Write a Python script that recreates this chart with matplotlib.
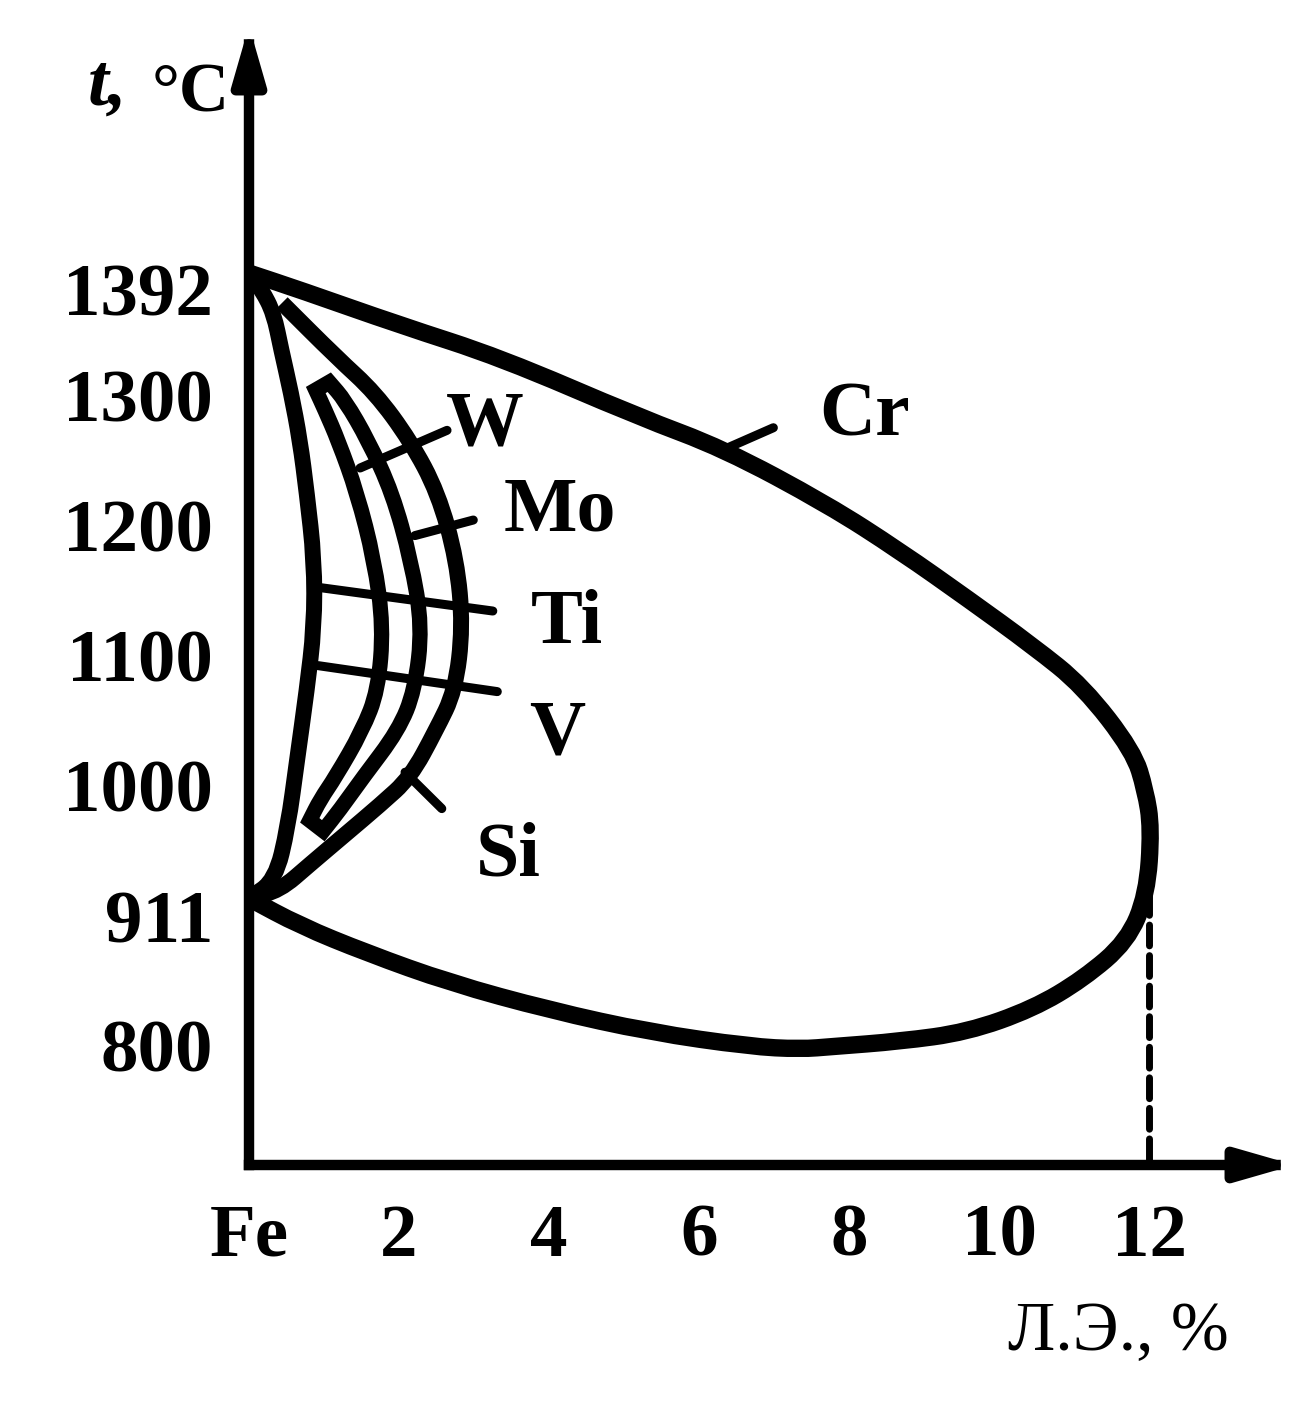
import matplotlib
matplotlib.use("Agg")
import matplotlib.pyplot as plt
from matplotlib.ticker import FixedLocator
from matplotlib.patches import PathPatch
from matplotlib.path import Path
import matplotlib.transforms as mtransforms
import numpy as np

plt.rcParams['font.family'] = ['Liberation Serif', 'DejaVu Serif']

# ---------------- data ----------------
# Cr gamma-loop boundary (alloying element %, temperature degC)
cr_x = [0, 0.68, 2.01, 3.35, 5.21, 6.32, 7.71, 8.68, 9.59, 10.45, 11.12, 11.79, 11.95, 12.03,
        11.97, 11.71, 11.12, 10.45, 9.57, 8.68, 7.79, 7.35, 6.68, 5.35, 4.01, 2.68, 1.57, 0.68, 0]
cr_t = [1392, 1379, 1352, 1327, 1281, 1257, 1214, 1178, 1141, 1105, 1074, 1024, 994, 965,
        914, 878, 849, 826, 808, 801, 797, 795, 797, 808, 825, 846, 869, 890, 911]

# innermost loop (from 1392 to 911)
a_x = [0, 0.17, 0.33, 0.43, 0.56, 0.68, 0.77, 0.87, 0.87, 0.77, 0.64, 0.52, 0.35, 0]
a_t = [1392, 1379, 1361, 1333, 1300, 1263, 1223, 1171, 1120, 1071, 1017, 966, 925, 911]

# outer small loop (open upper end, joins 911)
o_x = [0.44, 1.17, 1.68, 2.15, 2.52, 2.77, 2.85, 2.75, 2.49, 2.15, 1.75, 1.28, 0.81, 0.41, 0]
o_t = [1369, 1327, 1300, 1263, 1223, 1171, 1120, 1071, 1040, 1004, 983, 960, 937, 917, 911]

# hollow (double-line) curve: left strand top->bottom, right strand bottom->top
hl_x = [0.89, 1.01, 1.19, 1.44, 1.67, 1.79, 1.72, 1.51, 1.15, 0.95, 0.81]
hl_t = [1302, 1287, 1263, 1223, 1171, 1120, 1071, 1040, 1004, 987, 971]
hr_x = [0.99, 1.21, 1.52, 1.99, 2.21, 2.31, 2.16, 1.91, 1.59, 1.28, 1.07]
hr_t = [963, 979, 1004, 1040, 1071, 1120, 1171, 1223, 1263, 1294, 1308]

# leader lines: (x0, t0, x1, t1)
leaders = {
    'W':  (1.48, 1242, 2.64, 1271),
    'Mo': (2.21, 1190, 2.99, 1202),
    'Ti': (0.95, 1150, 3.25, 1132),
    'V':  (0.92, 1090, 3.31, 1070),
    'Si': (2.08, 1008, 2.57, 980),
    'Cr': (6.32, 1256, 6.99, 1273),
}
label_pos = {
    'W': (3.15, 1274), 'Mo': (4.15, 1208), 'Ti': (4.24, 1122),
    'V': (4.11, 1037), 'Si': (3.45, 943), 'Cr': (8.21, 1281),
}

x_tick_vals = [0, 2, 4, 6, 8, 10, 12]
x_tick_text = ['Fe', '2', '4', '6', '8', '10', '12']
x_tick_marks = [2, 4, 6, 8, 10]
y_tick_vals = [800, 911, 1000, 1100, 1200, 1300, 1392]
y_tick_text = ['800', '911', '1000', '1100', '1200', '1300', '1392']
y_tick_marks = [800, 1000, 1100, 1200, 1300]
cr_limit = 12          # dashed drop line
cr_limit_t = 914


def smooth_segment(xs, ys):
    """vertices/codes (without MOVETO) of a smooth quadratic-Bezier path through midpoints"""
    p = np.column_stack([xs, ys]).astype(float)
    verts = [(p[0] + p[1]) / 2]
    codes = [Path.LINETO]
    for i in range(1, len(p) - 1):
        verts += [p[i], (p[i] + p[i + 1]) / 2]
        codes += [Path.CURVE3, Path.CURVE3]
    verts.append(p[-1])
    codes.append(Path.LINETO)
    return verts, codes


def smooth_path(xs, ys):
    v, c = smooth_segment(xs, ys)
    return Path([(xs[0], ys[0])] + v, [Path.MOVETO] + c)


# ---------------- figure ----------------
W_PX, H_PX = 1301, 1408
fig = plt.figure(figsize=(W_PX / 100, H_PX / 100), dpi=100)
fig.patch.set_facecolor('white')
ax = fig.add_axes([249 / W_PX, (H_PX - 1165) / H_PX, (1282 - 249) / W_PX, (1165 - 38) / H_PX])
x_lo, x_hi = 0, 13.77
t_lo, t_hi = 705.85, 1572.8
ax.set_xlim(x_lo, x_hi)
ax.set_ylim(t_lo, t_hi)
for s in ax.spines.values():
    s.set_visible(False)
ax.set_facecolor('none')

# axes with arrows (tips slightly beyond the axes box, as drawn)
arrow_kw = dict(arrowstyle='-|>,head_length=3.3,head_width=0.95', lw=7.5, color='black',
                shrinkA=0, shrinkB=0, mutation_scale=10, joinstyle='round', capstyle='projecting')
ax.annotate('', xy=(0, 1.011), xytext=(0, 0), xycoords=('data', 'axes fraction'),
            textcoords=('data', 'axes fraction'), arrowprops=arrow_kw, annotation_clip=False)
ax.annotate('', xy=(1.012, 0), xytext=(0, 0), xycoords=('axes fraction', 'axes fraction'),
            textcoords=('axes fraction', 'axes fraction'), arrowprops=arrow_kw,
            annotation_clip=False)

# ticks
ax.set_xticks(x_tick_vals)
ax.set_xticklabels(x_tick_text)
ax.set_yticks(y_tick_vals)
ax.set_yticklabels(y_tick_text)
ax.xaxis.set_minor_locator(FixedLocator(x_tick_marks))
ax.yaxis.set_minor_locator(FixedLocator(y_tick_marks))
ax.tick_params(which='major', length=0)
ax.tick_params(axis='x', which='major', pad=28, labelsize=54)
ax.tick_params(axis='y', which='major', pad=26, labelsize=54)
ax.tick_params(axis='x', which='minor', direction='in', length=22, width=5.5, color='black')
ax.tick_params(axis='y', which='minor', direction='in', length=26, width=6.5, color='black')
for lab in ax.get_xticklabels() + ax.get_yticklabels():
    lab.set_fontweight('bold')
# the printed labels sit a little below their levels
label_drop = {'1392': 16, '911': 18}
for lab in ax.get_yticklabels():
    dy = label_drop.get(lab.get_text(), 3)
    lab.set_transform(lab.get_transform() +
                      mtransforms.ScaledTranslation(0, -dy / 100, fig.dpi_scale_trans))

lw_curve = 11.5
ax.add_patch(PathPatch(smooth_path(cr_x, cr_t), fill=False, edgecolor='black', lw=12.5,
                       joinstyle='round', capstyle='butt'))
ax.add_patch(PathPatch(smooth_path(a_x, a_t), fill=False, edgecolor='black', lw=lw_curve,
                       joinstyle='round', capstyle='butt'))
ax.add_patch(PathPatch(smooth_path(o_x, o_t), fill=False, edgecolor='black', lw=lw_curve,
                       joinstyle='round', capstyle='butt'))

# hollow curve: left strand, bottom cap, right strand, top cap
lv, lc = smooth_segment(hl_x, hl_t)
rv, rc = smooth_segment(hr_x, hr_t)
h_verts = [(hl_x[0], hl_t[0])] + lv + [(hr_x[0], hr_t[0])] + rv + [(hl_x[0], hl_t[0])]
h_codes = [Path.MOVETO] + lc + [Path.LINETO] + rc + [Path.CLOSEPOLY]
ax.add_patch(PathPatch(Path(h_verts, h_codes), fill=False, edgecolor='black', lw=11,
                       joinstyle='miter'))

for name, (x0, t0, x1, t1) in leaders.items():
    ax.plot([x0, x1], [t0, t1], color='black', lw=6.5, solid_capstyle='round')
for name, (lx, lt) in label_pos.items():
    ax.text(lx, lt, name, fontsize=56, fontweight='bold', ha='center', va='center')

ax.plot([cr_limit, cr_limit], [cr_limit_t, t_lo], color='black', lw=5,
        linestyle=(0, (3.0, 1.4)), dash_capstyle='round')

# axis titles
fig.text(88 / W_PX, (H_PX - 105) / H_PX, 't,', fontsize=54, fontweight='bold', style='italic',
         ha='left', va='baseline')
fig.text(152 / W_PX, (H_PX - 112) / H_PX, '°C', fontsize=50, fontweight='bold',
         ha='left', va='baseline')
fig.text(1008 / W_PX, (H_PX - 1350) / H_PX, 'Л.Э., %', fontsize=50,
         ha='left', va='baseline')

fig.savefig('out.png', dpi=100, facecolor='white')
